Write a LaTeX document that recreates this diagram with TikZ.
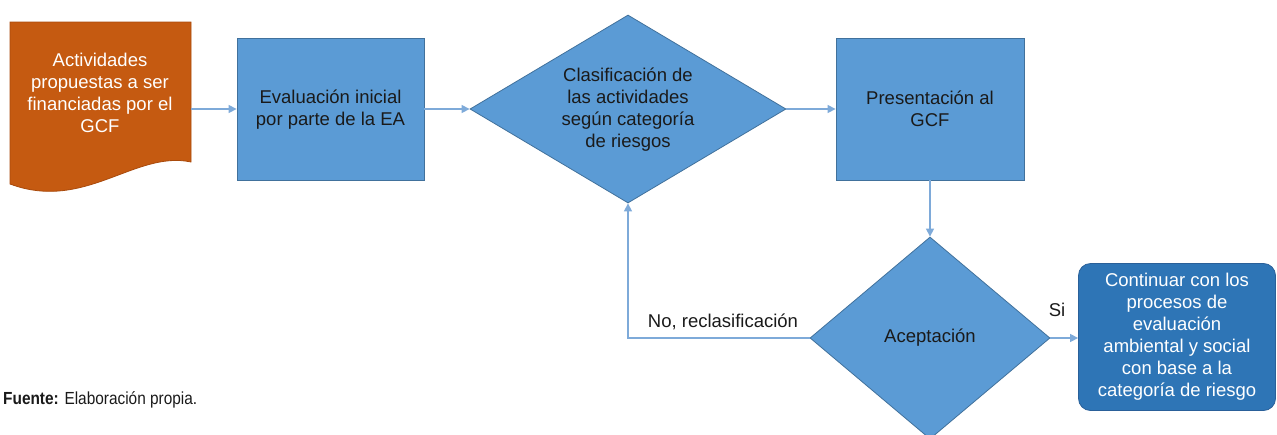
\documentclass[tikz,border=0pt]{standalone}
\usepackage{fontspec}
\setmainfont{Liberation Sans}
\newfontfamily\condfont[FakeStretch=0.88]{Liberation Sans}
\usetikzlibrary{shapes.geometric,arrows.meta}
\definecolor{boxblue}{HTML}{5B9BD5}
\definecolor{boxedge}{HTML}{41719C}
\definecolor{darkblue}{HTML}{2E75B6}
\definecolor{darkedge}{HTML}{2A6099}
\definecolor{docorange}{HTML}{C55A11}
\definecolor{docedge}{HTML}{A94A0C}
\definecolor{linkblue}{HTML}{7EAAD9}
\definecolor{txtdark}{HTML}{1A1A1A}
\tikzset{
  every node/.style={font=\fontsize{18.5}{22}\selectfont},
  procbox/.style={draw=boxedge, line width=0.8pt, fill=boxblue, rectangle, inner sep=0pt},
  decbox/.style={draw=boxedge, line width=0.8pt, fill=boxblue, diamond, inner sep=0pt},
  endbox/.style={draw=darkedge, line width=0.8pt, fill=darkblue, rectangle, rounded corners=12pt, inner sep=0pt},
  lbl/.style={align=center, text=txtdark, inner sep=0pt},
  wlbl/.style={align=center, text=white, inner sep=0pt},
  link/.style={draw=linkblue, line width=1.3pt, -{Triangle[length=8pt,width=8pt]}},
}
\begin{document}
\begin{tikzpicture}[x=1pt,y=-1pt]
\useasboundingbox (0,0) rectangle (1277,434);
% document shape
\draw[draw=docedge, line width=0.8pt, fill=docorange]
  (10,22) -- (191,22) -- (191,162) .. controls (135,150) and (85,212) .. (10,184) -- cycle;
\node[wlbl] (doc) at (100,93) {Actividades\\propuestas a ser\\financiadas por el\\GCF};
\coordinate (docR) at (191,109);
% boxes
\node[procbox, minimum width=187pt, minimum height=142pt] (eval) at (330.5,109) {};
\node[lbl] (evalt) at (330.5,110) {Evaluación inicial\\por parte de la EA};
\node[decbox, minimum width=316pt, minimum height=188pt] (clas) at (628,109) {};
\node[lbl] (clast) at (628,110) {Clasificación de\\las actividades\\según categoría\\de riesgos};
\node[procbox, minimum width=188pt, minimum height=142pt] (pres) at (930,109) {};
\node[lbl] (prest) at (930,109) {Presentación al\\GCF};
\node[decbox, minimum width=240pt, minimum height=202pt] (acep) at (930,338) {};
\node[lbl] (acept) at (930,338) {Aceptación};
\node[endbox, minimum width=197pt, minimum height=147pt] (cont) at (1177,337) {};
\node[wlbl] (contt) at (1177,337) {Continuar con los\\procesos de\\evaluación\\ambiental y social\\con base a la\\categoría de riesgo};
% connectors
\draw[link] (docR) -- (docR -| eval.west);
\draw[link] (eval.east) -- (eval.east -| clas.west);
\draw[link] (clas.east) -- (clas.east -| pres.west);
\draw[link] (pres.south) -- (acep.north);
\draw[link] (acep.east) -- (acep.east -| cont.west);
\draw[link] (acep.west) -| (clas.south);
% labels
\node[lbl] (si) at (1057,310) {Si};
\node[lbl] (no) at (723,322) {No, reclasificación};
\node[anchor=base west, inner sep=0pt, text=txtdark] (fuente) at (3,404)
  {\condfont\fontsize{17.5}{20}\selectfont\textbf{Fuente:} Elaboración propia.};
\end{tikzpicture}
\end{document}
